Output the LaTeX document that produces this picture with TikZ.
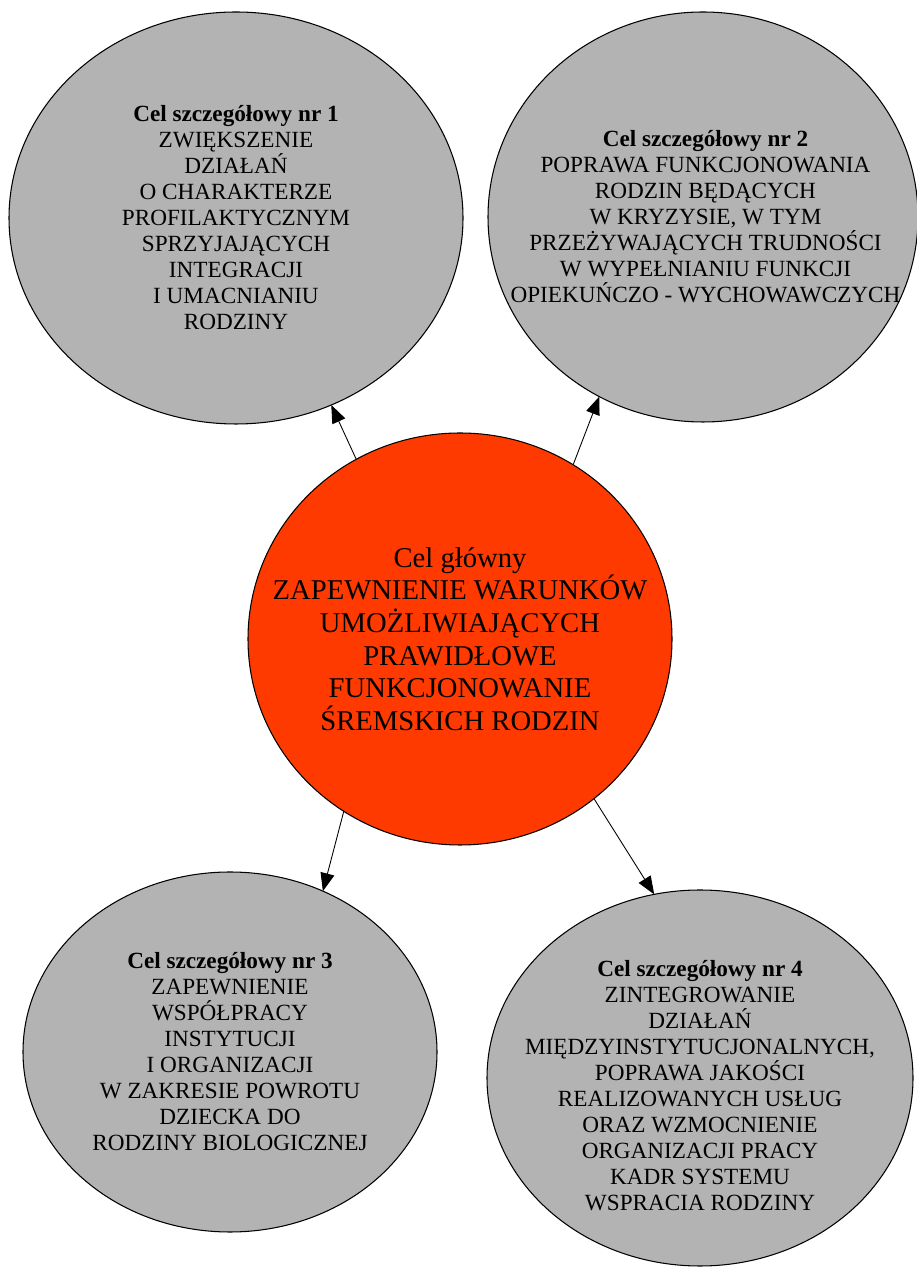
\documentclass[tikz,border=0pt]{standalone}
\usepackage{fontspec}
\setmainfont{Liberation Serif}
\usetikzlibrary{shapes.geometric, arrows.meta}

\definecolor{szary}{RGB}{179,179,179}
\definecolor{czerwony}{RGB}{255,58,0}

\begin{document}
\begin{tikzpicture}[
	cel/.style={ellipse, draw, fill=szary, line width=0.6pt, inner sep=0pt, outer sep=0pt},
	glowny/.style={ellipse, draw, fill=czerwony, line width=0.6pt, inner sep=0pt, outer sep=0pt},
	celtekst/.style={align=center, font=\fontsize{13.2}{14.8}\selectfont},
	glownytekst/.style={align=center, font=\fontsize{16.3}{18.6}\selectfont},
	strzalka/.style={-{Triangle[length=0.36cm,width=0.28cm]}, line width=0.5pt}
]
	\useasboundingbox (0,0) rectangle (18.32,25.34);

	%% cele szczegolowe
	\node[cel, minimum width=9.08cm, minimum height=8.24cm] (c1) at (4.72,20.98) {};
	\node[cel, minimum width=8.6cm, minimum height=8.2cm] (c2) at (14.06,21.0) {};
	\node[cel, minimum width=8.28cm, minimum height=7.2cm] (c3) at (4.6,4.3) {};
	\node[cel, minimum width=8.52cm, minimum height=7.52cm] (c4) at (14.0,3.78) {};

	%% cel glowny
	\node[glowny, minimum width=8.48cm, minimum height=8.24cm] (g) at (9.2,12.56) {};

	\node[celtekst] (t1) at (c1) {\textbf{Cel szczegółowy nr 1}\\ZWIĘKSZENIE\\DZIAŁAŃ\\O CHARAKTERZE\\PROFILAKTYCZNYM\\SPRZYJAJĄCYCH\\INTEGRACJI\\I UMACNIANIU\\RODZINY};
	\node[celtekst] (t2) at ([xshift=0.05cm]c2) {\textbf{Cel szczegółowy nr 2}\\POPRAWA FUNKCJONOWANIA\\RODZIN BĘDĄCYCH\\W KRYZYSIE, W TYM\\PRZEŻYWAJĄCYCH TRUDNOŚCI\\W WYPEŁNIANIU FUNKCJI\\OPIEKUŃCZO - WYCHOWAWCZYCH};
	\node[celtekst] (t3) at (c3) {\textbf{Cel szczegółowy nr 3}\\ZAPEWNIENIE\\WSPÓŁPRACY\\INSTYTUCJI\\I ORGANIZACJI\\W ZAKRESIE POWROTU\\DZIECKA DO\\RODZINY BIOLOGICZNEJ};
	\node[celtekst] (t4) at ([yshift=-0.15cm]c4) {\textbf{Cel szczegółowy nr 4}\\ZINTEGROWANIE\\DZIAŁAŃ\\MIĘDZYINSTYTUCJONALNYCH,\\POPRAWA JAKOŚCI\\REALIZOWANYCH USŁUG\\ORAZ WZMOCNIENIE\\ORGANIZACJI PRACY\\KADR SYSTEMU\\WSPRACIA RODZINY};
	\node[glownytekst] (tg) at (g) {Cel główny\\ZAPEWNIENIE WARUNKÓW\\UMOŻLIWIAJĄCYCH\\PRAWIDŁOWE\\FUNKCJONOWANIE\\ŚREMSKICH RODZIN};

	\draw[strzalka] (g.120) -- (c1.297);
	\draw[strzalka] (g.57) -- (c2.240);
	\draw[strzalka] (g.236) -- (c3.60);
	\draw[strzalka] (g.310) -- (c4.104);
\end{tikzpicture}
\end{document}
